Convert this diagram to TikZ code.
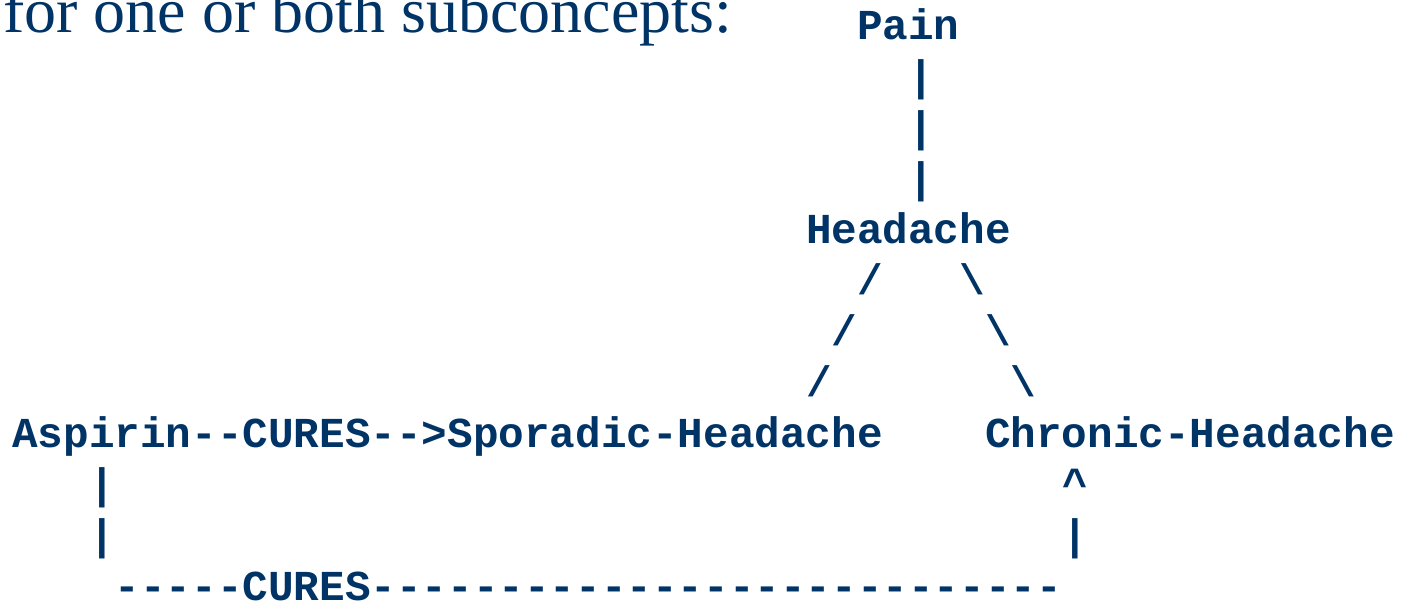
\documentclass[tikz,border=0pt]{standalone}
\usepackage{fontspec}
\usepackage{tikz}
\setmainfont{Liberation Serif}
\newfontfamily\asciifont{Liberation Mono}[Ligatures=TeXOff]
\definecolor{slideblue}{RGB}{0,51,102}
\tikzset{
  ascii/.style={anchor=base west,inner sep=0pt,text=slideblue,
    font=\asciifont\bfseries\fontsize{21.33pt}{25.5pt}\selectfont},
}

\begin{document}
\begin{tikzpicture}[x=12.8pt,y=-25.5pt]
  \useasboundingbox (-6pt,20pt) rectangle (695.5pt,-281.5pt);
  \node[anchor=base west,inner sep=0pt,text=slideblue,font=\fontsize{32pt}{36pt}\selectfont]
    (intro) at (-4.5pt,3.5pt) {for one or both subconcepts:};
  % taxonomy
  \node[ascii] (pain) at (33,0) {Pain};
  \foreach \r in {1,2,3}{
    \node[ascii] (bar\r) at (35,\r) {|};
  }
  \node[ascii] (headache) at (31,4) {Headache};
  \foreach \r/\cl/\cr in {5/33/37, 6/32/38, 7/31/39}{
    \node[ascii] (left\r) at (\cl,\r) {/};
    \node[ascii] (right\r) at (\cr,\r) {\textbackslash};
  }
  % relations
  \node[ascii] (aspirin) at (0,8) {Aspirin};
  \node[ascii] (cures) at (7,8) {--CURES-->};
  \node[ascii] (sporadic) at (17,8) {Sporadic-Headache};
  \node[ascii] (chronic) at (38,8) {Chronic-Headache};
  \node[ascii] (down9) at (3,9) {|};
  \node[ascii] (down10) at (3,10) {|};
  \node[ascii] (tip) at (41,9) {\textasciicircum};
  \node[ascii] (up10) at (41,10) {|};
  \node[ascii] (curesline) at (4,11) {-----CURES---------------------------};
\end{tikzpicture}
\end{document}
